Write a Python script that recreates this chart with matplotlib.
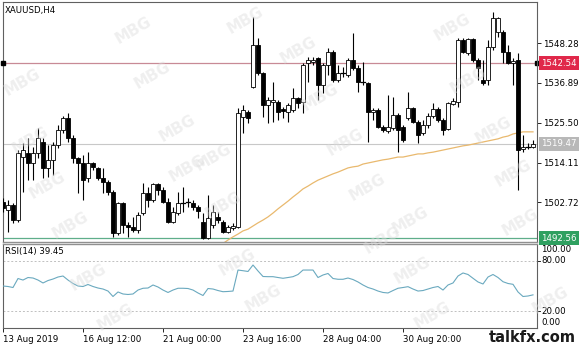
import matplotlib
matplotlib.use("Agg")
import matplotlib.pyplot as plt
from matplotlib.patches import Rectangle
import matplotlib.transforms as mtransforms

# ---------------- data ----------------
symbol_title = "XAUUSD,H4"
opens = [1502.9,1500.6,1502.0,1497.7,1515.7,1516.9,1514.0,1516.9,1520.0,1512.6,
         1514.9,1519.1,1523.4,1526.9,1521.1,1515.4,1514.0,1509.7,1514.0,1512.6,
         1509.7,1508.6,1505.7,1494.0,1502.6,1496.3,1495.7,1494.9,1499.7,1505.4,
         1503.4,1508.0,1506.3,1502.9,1497.1,1499.7,1502.6,1502.9,1502.6,1501.4,
         1497.1,1492.6,1496.3,1498.6,1497.1,1494.3,1495.4,1495.7,1527.1,1528.6,
         1535.7,1547.7,1539.7,1530.6,1531.4,1531.4,1529.4,1528.6,1529.1,1532.6,
         1531.4,1542.6,1542.9,1544.0,1536.3,1542.0,1545.7,1537.7,1539.7,1539.1,
         1543.4,1541.1,1537.1,1536.9,1528.6,1529.1,1524.3,1523.1,1524.0,1527.7,
         1524.3,1526.9,1529.7,1525.7,1522.6,1524.9,1527.4,1529.4,1526.3,1523.7,
         1530.9,1531.4,1549.1,1545.4,1549.4,1543.4,1537.7,1537.7,1547.1,1551.4,
         1551.4,1545.7,1542.6,1543.4,1518.0,1518.6,1518.6]
highs = [1504.0,1503.4,1502.6,1517.7,1519.7,1521.1,1518.6,1524.0,1521.1,1519.1,
         1520.0,1524.9,1527.4,1528.3,1522.0,1515.7,1516.3,1517.1,1514.3,1512.9,
         1512.6,1509.1,1506.3,1502.9,1502.9,1497.1,1498.6,1500.0,1508.3,1507.1,
         1508.3,1508.3,1507.1,1504.0,1501.4,1505.7,1507.1,1504.0,1503.4,1502.0,
         1499.7,1504.9,1502.0,1500.0,1497.7,1496.3,1496.9,1529.7,1530.6,1529.1,
         1555.7,1549.7,1540.0,1532.9,1537.1,1532.0,1530.0,1531.1,1535.4,1532.9,
         1542.6,1544.3,1544.3,1544.3,1542.6,1546.9,1546.3,1542.0,1541.4,1544.0,
         1551.1,1542.0,1542.9,1537.1,1529.7,1529.7,1524.9,1533.4,1532.9,1528.3,
         1524.9,1534.3,1530.0,1526.3,1526.3,1528.3,1531.1,1530.0,1526.9,1531.4,
         1532.6,1549.7,1549.7,1549.7,1549.7,1544.0,1543.4,1549.1,1557.1,1555.7,
         1552.0,1547.7,1544.0,1545.4,1522.0,1519.7,1520.6]
lows = [1500.0,1494.3,1496.9,1497.1,1505.7,1509.1,1509.1,1515.4,1509.7,1510.0,
        1510.6,1518.3,1522.6,1520.0,1514.0,1505.4,1503.4,1508.6,1512.0,1509.1,
        1505.4,1504.9,1492.9,1493.4,1494.0,1492.9,1494.3,1494.0,1499.1,1501.4,
        1502.9,1504.9,1502.6,1496.9,1496.9,1499.1,1500.0,1501.4,1500.6,1498.3,
        1492.3,1492.3,1495.4,1496.9,1494.0,1494.0,1494.9,1495.4,1522.6,1525.4,
        1535.4,1539.1,1527.1,1525.4,1525.7,1526.3,1526.9,1525.7,1528.6,1529.7,
        1528.3,1537.1,1542.0,1532.0,1534.0,1539.1,1537.1,1537.1,1538.6,1538.6,
        1540.6,1534.3,1536.3,1520.0,1526.3,1524.0,1522.9,1522.6,1523.4,1517.1,
        1520.0,1526.3,1525.4,1519.7,1522.0,1524.0,1526.9,1525.7,1522.0,1523.4,
        1530.6,1530.0,1545.4,1544.9,1542.9,1537.7,1536.3,1536.3,1546.3,1550.0,
        1542.6,1542.3,1536.3,1506.3,1517.1,1518.0,1518.3]
closes = [1501.1,1502.0,1497.7,1516.9,1517.7,1514.0,1516.9,1521.1,1512.6,1514.9,
          1519.1,1523.4,1526.9,1521.1,1515.4,1514.0,1509.1,1514.0,1512.9,1509.7,
          1508.6,1505.7,1494.0,1502.6,1496.3,1495.7,1494.9,1499.1,1505.4,1503.4,
          1508.0,1506.3,1502.9,1497.1,1500.0,1502.6,1502.9,1502.6,1501.4,1500.3,
          1492.6,1498.3,1500.0,1497.7,1494.3,1495.7,1496.0,1528.3,1529.1,1526.9,
          1547.7,1539.7,1530.6,1532.0,1532.0,1528.6,1528.9,1530.6,1532.6,1531.1,
          1542.0,1543.4,1543.4,1536.3,1542.0,1545.7,1537.7,1539.7,1539.4,1543.4,
          1541.1,1537.1,1536.9,1528.6,1529.1,1524.3,1523.4,1524.3,1527.7,1523.4,
          1520.6,1529.7,1525.7,1522.0,1524.9,1527.4,1529.4,1526.3,1523.4,1531.1,
          1531.7,1549.1,1545.7,1549.4,1543.4,1541.1,1536.9,1547.1,1555.4,1555.4,
          1545.7,1542.6,1543.1,1517.7,1518.6,1518.9,1519.47]

ma_start = 44
ma_values = [1491.0,1492.0,1492.9,1493.7,1494.6,1495.1,1496.0,1496.9,1497.7,1498.6,1499.7,
             1500.9,1502.0,1503.1,1504.3,1505.4,1506.6,1507.4,1508.3,1509.1,1509.7,
             1510.3,1510.9,1511.4,1512.0,1512.6,1512.9,1513.1,1513.7,1514.0,1514.3,
             1514.6,1514.9,1515.1,1515.4,1515.7,1515.7,1516.0,1516.3,1516.6,1516.6,
             1516.9,1517.1,1517.4,1517.7,1518.0,1518.3,1518.6,1518.9,1519.1,1519.4,
             1519.7,1520.0,1520.3,1520.6,1520.9,1521.4,1521.7,1522.3,1522.6,1522.9,
             1522.9,1522.9]

rsi = [50.0,49.4,48.2,58.9,57.1,60.1,59.5,57.1,53.6,56.5,
       58.3,60.7,61.9,57.1,53.0,50.0,49.4,51.8,49.4,47.6,
       46.4,44.0,37.5,42.9,40.5,39.9,40.5,45.2,47.3,47.6,
       51.2,48.8,45.2,42.3,45.2,47.3,47.3,47.0,45.2,41.7,
       38.7,47.0,46.4,44.6,43.2,43.5,44.0,69.0,68.2,67.3,
       75.0,67.9,61.3,61.1,61.1,60.1,59.2,60.1,61.1,63.7,
       69.0,69.0,69.0,60.1,63.1,64.9,58.9,58.0,58.0,59.5,
       57.7,54.8,51.2,48.2,46.4,44.0,42.3,41.7,44.6,47.3,
       48.2,49.2,46.4,44.0,44.6,46.4,48.2,49.4,45.2,51.2,
       53.6,61.9,65.5,63.7,59.2,54.8,52.4,60.7,63.7,60.1,
       55.1,53.0,52.0,42.9,37.5,38.1,39.45]
rsi_title = "RSI(14) 39.45"

price_ticks = [1548.28, 1536.89, 1525.50, 1514.11, 1502.72]
red_level = 1542.54
bid_level = 1519.47
green_level = 1492.56
rsi_levels = [80, 20]
rsi_tick_labels = ["100.00", "80.00", "20.00", "0.00"]
date_positions = [0, 16, 32, 48, 64, 80]
date_labels = ["13 Aug 2019", "16 Aug 12:00", "21 Aug 00:00", "23 Aug 16:00",
               "28 Aug 04:00", "30 Aug 20:00"]

# ---------------- layout ----------------
W, H = 580, 348
fig = plt.figure(figsize=(W / 100, H / 100), dpi=100)
fig.patch.set_facecolor("white")

def px_axes(x0, y0, x1, y1):
    return fig.add_axes([x0 / W, 1 - y1 / H, (x1 - x0) / W, (y1 - y0) / H])

ax = px_axes(3, 2, 537, 242)
axr = px_axes(3, 244, 537, 328)

n = len(opens)
XLIM = (0, 106.8)
FS = 6.2
edge = "#606060"

# ---------------- main chart ----------------
ax.set_xlim(*XLIM)
ax.set_ylim(1491.43, 1560.0)
for i in range(n):
    o, h, l, c = opens[i], highs[i], lows[i], closes[i]
    ax.plot([i, i], [l, h], color="black", lw=0.8, solid_capstyle="butt", zorder=3)
    bottom = min(o, c)
    height = abs(c - o)
    if height < 0.35:
        ax.plot([i - 0.32, i + 0.32], [o, o], color="black", lw=0.9, zorder=4)
    else:
        fc = "white" if c >= o else "black"
        ax.add_patch(Rectangle((i - 0.32, bottom), 0.64, height, facecolor=fc,
                               edgecolor="black", lw=0.6, zorder=4))

ma_x = list(range(ma_start, ma_start + len(ma_values)))
ax.plot(ma_x, ma_values, color="#e9b96e", lw=0.9, zorder=2)

ax.axhline(red_level, color="#c88a96", lw=0.9, zorder=1)
ax.axhline(bid_level, color="#c8c8c8", lw=0.8, zorder=1)
ax.axhline(green_level, color="#5fae8a", lw=0.9, zorder=1)
ax.plot([0.05], [red_level], marker="s", ms=2.5, color="black", zorder=5, clip_on=False)

ax.yaxis.tick_right()
ax.set_yticks(price_ticks)
ax.set_yticklabels([f"{v:.2f}" for v in price_ticks], fontsize=FS)
ax.tick_params(axis="y", direction="out", length=3, width=0.6, pad=1.5, colors="black")
ax.set_xticks([])
for s in ax.spines.values():
    s.set_color(edge)
    s.set_linewidth(0.8)
ax.spines["bottom"].set_linewidth(1.0)
ax.spines["bottom"].set_color("#909090")

trans = mtransforms.blended_transform_factory(ax.transAxes, ax.transData)
for val, col in [(red_level, "#e0284a"), (bid_level, "#b8b8b8"), (green_level, "#2fa060")]:
    ax.text(1.008, val, f"{val:.2f}", transform=trans, fontsize=FS, color="white",
            va="center", ha="left", clip_on=False,
            bbox=dict(facecolor=col, edgecolor="none", boxstyle="square,pad=0.25"))
ax.plot([1.0], [red_level], transform=trans, marker="s", ms=2.5, color="black", clip_on=False)

ax.text(0.004, 0.985, symbol_title, transform=ax.transAxes, fontsize=FS,
        va="top", ha="left", color="black")

# ---------------- RSI ----------------
axr.set_xlim(*XLIM)
axr.set_ylim(0, 100)
axr.plot(range(n), rsi, color="#6aa9bf", lw=0.8, zorder=3)
for lv in rsi_levels:
    axr.axhline(lv, color="#c0c0c0", lw=0.7, ls=(0, (2, 2)), zorder=1)
axr.set_yticks([])
axr.set_xticks(date_positions)
axr.set_xticklabels(date_labels, fontsize=FS, ha="left")
axr.tick_params(axis="x", direction="out", length=3, width=0.6, pad=2)
for s in axr.spines.values():
    s.set_color(edge)
    s.set_linewidth(0.8)
axr.spines["top"].set_linewidth(1.0)
axr.spines["top"].set_color("#909090")
axr.text(0.003, 0.96, rsi_title, transform=axr.transAxes, fontsize=FS,
         va="top", ha="left", color="black")

rtrans = mtransforms.blended_transform_factory(axr.transAxes, axr.transData)
for lab, yv in zip(rsi_tick_labels, [93, 80, 20, 6]):
    axr.text(1.008, yv, lab, transform=rtrans, fontsize=FS, va="center", ha="left",
             clip_on=False)
for yv in [80, 20]:
    axr.plot([1.0, 1.006], [yv, yv], transform=rtrans, color="black", lw=0.6, clip_on=False)

# ---------------- watermarks ----------------
wm = [(133, 30), (152, 75), (245, 20), (298, 50), (320, 97), (452, 27), (468, 80),
      (22, 82), (177, 128), (187, 168), (47, 185), (70, 225), (213, 157), (223, 205),
      (345, 142), (367, 187), (493, 130), (513, 173), (520, 222), (410, 220),
      (88, 277), (237, 262), (263, 298), (115, 317), (412, 270), (432, 315),
      (550, 300), (382, 240), (30, 140)]
for (x, y) in wm:
    fig.text(x / W, 1 - y / H, "MBG", fontsize=11, fontweight="bold", color="#dcdcdc",
             alpha=0.45, rotation=30, ha="center", va="center", zorder=10)

fig.text(576 / W, 1 - 337 / H, "talkfx.com", fontsize=10.5, fontweight="bold",
         color="#1a1a1a", ha="right", va="center")

fig.savefig("out.png", dpi=100, facecolor="white")
